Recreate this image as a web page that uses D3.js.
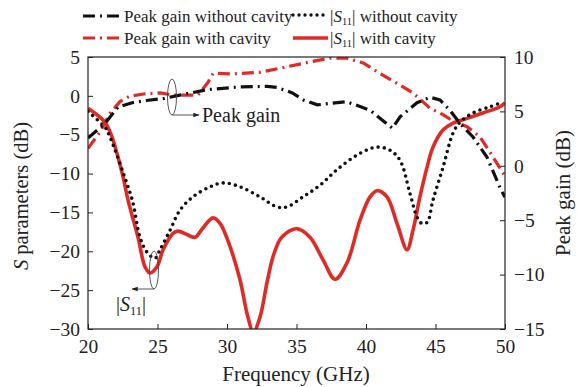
<!DOCTYPE html>
<html><head><meta charset="utf-8">
<script src="https://cdn.jsdelivr.net/npm/d3@7/dist/d3.min.js"></script>
<style>body{margin:0;background:#fff}svg{display:block}text{font-family:"Liberation Serif","Times New Roman",serif;fill:#222}</style>
</head><body><svg id="c" width="577" height="387"></svg>
<script>
// ---- data ----
const xTicks = [20,25,30,35,40,45,50];
const yLeftTicks = [5,0,-5,-10,-15,-20,-25,-30];
const yRightTicks = [10,5,0,-5,-10,-15];

const fGainNo = [20,21.22,22.16,23.17,24.2,25.5,26.6,28.6,30.9,32.9,33.6,34.7,35.5,36.5,38.6,40.3,41.9,42.45,43.67,44.6,45.32,46.04,46.76,47.7,48.7,49.64,50];
const gainNo  = [2.55,3.9,5.4,5.8,6.0,6.2,6.5,7.0,7.25,7.3,7.2,6.7,6.05,5.6,5.9,5.1,3.45,4.5,5.8,6.3,6.05,5.1,3.9,2.65,0.8,-2.0,-2.9];

const fGainCav = [20,20.86,21.6,22.3,23.0,24.0,25.2,26.1,27.9,28.6,29.0,30.4,32.4,34.3,36.0,37.4,38.6,39.8,41.0,42.2,43.38,44.6,45.54,46.4,47.27,48.2,49.14,49.86,50];
const gainCav  = [1.6,3.1,4.85,5.9,6.4,6.6,6.7,6.5,6.5,7.6,8.5,8.45,8.6,9.1,9.55,9.9,9.9,9.45,8.5,7.6,6.7,5.3,4.7,4.0,3.6,2.65,0.8,-0.66,-1.0];

const fS11No = [20,20.86,21.22,21.58,22.88,23.24,23.74,24.24,24.82,25.18,25.9,26.62,27.55,28.78,29.71,30.94,32.37,33.6,34.3,35.47,36.69,37.91,39.57,40.79,41.73,42.45,43.17,43.67,44.0,44.39,44.82,45.54,46.26,46.76,47.7,48.92,49.86];
const s11No  = [-2.0,-3.4,-4.0,-5.3,-11.7,-13.8,-18.2,-20.1,-20.9,-19.8,-17.3,-14.7,-13,-11.7,-11.2,-11.7,-13,-14.3,-14.3,-13,-11.5,-9.5,-7.4,-6.6,-7.0,-8.3,-12.6,-15.6,-16.4,-16.3,-13.4,-9.2,-4.8,-3.4,-2.2,-1.4,-0.8];

const fS11Cav = [20,21.22,21.73,22.16,22.52,22.88,23.6,24.1,24.46,24.96,25.4,26.12,26.47,27.19,27.7,28.27,28.99,29.5,30.22,30.94,31.51,31.9,32.37,32.88,33.31,33.81,34.3,35.04,35.97,36.91,37.77,38.63,39.57,40.29,40.79,41.51,42.23,42.95,43.38,43.88,44.39,44.82,45.54,46.26,47.27,48.41,49.64,50];
const s11Cav  = [-1.6,-3.4,-5.3,-7.9,-10.4,-13.4,-18.2,-22,-22.8,-22,-19.8,-17.7,-17.4,-17.9,-18.2,-17,-15.7,-16.4,-19.4,-23.7,-28.5,-30.4,-28.5,-24,-20.7,-18.5,-17.6,-17.1,-18.2,-21.1,-23.6,-21.5,-16,-13,-12.2,-13,-16.4,-19.8,-17.3,-13,-9.2,-6.6,-4.4,-3.5,-2.9,-2.2,-1.4,-0.9];

// ---- layout ----
const L=88,R=505,T=57,B=329;
const svg=d3.select("#c");
const x=d3.scaleLinear([20,50],[L,R]);
const yL=d3.scaleLinear([-30,5],[B,T]);
const yR=d3.scaleLinear([-15,10],[B,T]);
const fmt=d=>d<0?"\u2212"+Math.abs(d):String(d);

svg.append("defs").append("clipPath").attr("id","clip").append("rect")
  .attr("x",L).attr("y",T).attr("width",R-L).attr("height",B-T);
const mk=svg.select("defs").append("marker").attr("id","arr").attr("viewBox","0 0 10 10")
  .attr("refX",9).attr("refY",5).attr("markerWidth",7).attr("markerHeight",7).attr("orient","auto-start-reverse");
mk.append("path").attr("d","M0,1.5L10,5L0,8.5z").attr("fill","#222");

// axes
const ax=svg.append("g");
ax.append("g").attr("transform",`translate(0,${B})`)
  .call(d3.axisBottom(x).tickValues(xTicks).tickSizeInner(-5).tickSizeOuter(0).tickPadding(10))
  .call(g=>{g.select(".domain").remove();g.selectAll("text").attr("font-size",19.5);});
ax.append("g").attr("transform",`translate(${L},0)`)
  .call(d3.axisLeft(yL).tickValues(yLeftTicks).tickFormat(fmt).tickSizeInner(-5).tickSizeOuter(0).tickPadding(8))
  .call(g=>{g.select(".domain").remove();g.selectAll("text").attr("font-size",19.5);});
ax.append("g").attr("transform",`translate(${R},0)`)
  .call(d3.axisRight(yR).tickValues(yRightTicks).tickFormat(fmt).tickSizeInner(-5).tickSizeOuter(0).tickPadding(9))
  .call(g=>{g.select(".domain").remove();g.selectAll("text").attr("font-size",19.5);});
ax.selectAll(".tick line").attr("stroke","#222");
ax.selectAll("text").attr("fill","#222").attr("font-family","Liberation Serif");

// series
const plot=svg.append("g").attr("clip-path","url(#clip)");
const lineL=d3.line().x(d=>x(d[0])).y(d=>yL(d[1])).curve(d3.curveCatmullRom.alpha(0.5));
const lineR=d3.line().x(d=>x(d[0])).y(d=>yR(d[1]));
const zip=(a,b)=>a.map((v,i)=>[v,b[i]]);
const DASHDOT="12,5,2,5";
plot.append("path").datum(zip(fS11Cav,s11Cav)).attr("d",lineL).attr("fill","none")
  .attr("stroke","#e02a26").attr("stroke-width",3.6);
plot.append("path").datum(zip(fS11No,s11No)).attr("d",lineL).attr("fill","none")
  .attr("stroke","#111").attr("stroke-width",3.6).attr("stroke-linecap","round").attr("stroke-dasharray","0,6.2");
plot.append("path").datum(zip(fGainCav,gainCav)).attr("d",lineR).attr("fill","none")
  .attr("stroke","#e02a26").attr("stroke-width",3.2).attr("stroke-dasharray",DASHDOT);
plot.append("path").datum(zip(fGainNo,gainNo)).attr("d",lineR).attr("fill","none")
  .attr("stroke","#111").attr("stroke-width",3.2).attr("stroke-dasharray",DASHDOT);

// frame
svg.append("rect").attr("x",L).attr("y",T).attr("width",R-L).attr("height",B-T)
  .attr("fill","none").attr("stroke","#222").attr("stroke-width",1.2);

// axis titles
svg.append("text").attr("x",296).attr("y",381).attr("text-anchor","middle").attr("font-size",21).text("Frequency (GHz)");
const lt=svg.append("text").attr("transform","translate(28,196) rotate(-90)").attr("text-anchor","middle").attr("font-size",20.5);
lt.append("tspan").attr("font-style","italic").text("S");
lt.append("tspan").text(" parameters (dB)");
svg.append("text").attr("transform","translate(570,193) rotate(-90)").attr("text-anchor","middle").attr("font-size",21).text("Peak gain (dB)");

// annotations
svg.append("ellipse").attr("cx",172).attr("cy",97).attr("rx",4.5).attr("ry",18).attr("fill","none").attr("stroke","#444").attr("stroke-width",0.9);
svg.append("line").attr("x1",172).attr("y1",115).attr("x2",199).attr("y2",115).attr("stroke","#444").attr("stroke-width",0.9).attr("marker-end","url(#arr)");
svg.append("text").attr("x",202).attr("y",122).attr("font-size",20).text("Peak gain");

svg.append("ellipse").attr("cx",154).attr("cy",270).attr("rx",4.5).attr("ry",19).attr("fill","none").attr("stroke","#444").attr("stroke-width",0.9);
svg.append("line").attr("x1",154).attr("y1",289).attr("x2",132).attr("y2",289).attr("stroke","#444").attr("stroke-width",0.9).attr("marker-end","url(#arr)");
function s11(sel,size){
  sel.append("tspan").text("|");
  sel.append("tspan").attr("font-style","italic").text("S");
  sel.append("tspan").attr("font-size",size*0.62).attr("dy",size*0.18).text("11");
  sel.append("tspan").attr("dy",-size*0.18).text("|");
}
s11(svg.append("text").attr("x",116).attr("y",311).attr("font-size",20),20);

// legend
const lg=svg.append("g");
function sample(x1,x2,y,color,dash,width,cap){
  lg.append("line").attr("x1",x1).attr("x2",x2).attr("y1",y).attr("y2",y).attr("stroke",color)
    .attr("stroke-width",width).attr("stroke-dasharray",dash).attr("stroke-linecap",cap||"butt");
}
sample(83,122,16,"#111",DASHDOT,3.2);
sample(83,122,38,"#e02a26",DASHDOT,3.2);
sample(293,328,15,"#111","0,6",3.4,"round");
sample(293,328,38,"#e02a26",null,3.6);
lg.append("text").attr("x",124).attr("y",22).attr("font-size",17).text("Peak gain without cavity");
lg.append("text").attr("x",124).attr("y",44).attr("font-size",17).text("Peak gain with cavity");
const t1=lg.append("text").attr("x",330).attr("y",22).attr("font-size",17); s11(t1,17); t1.append("tspan").text(" without cavity");
const t2=lg.append("text").attr("x",330).attr("y",44).attr("font-size",17); s11(t2,17); t2.append("tspan").text(" with cavity");
</script></body></html>
